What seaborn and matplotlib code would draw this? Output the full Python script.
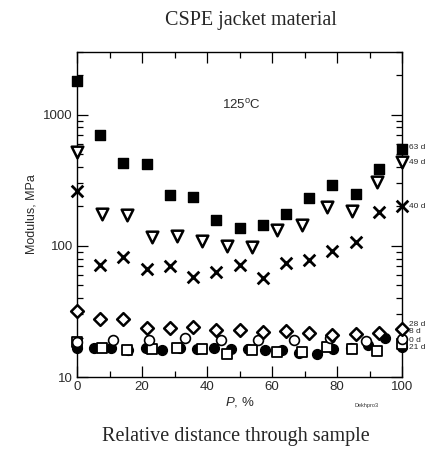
import numpy as np
import pandas as pd
import matplotlib
matplotlib.use('Agg')
import matplotlib.pyplot as plt
import matplotlib.transforms as mtransforms
import seaborn as sns

# ---- DATA ----
x15 = [0, 7.1, 14.3, 21.4, 28.6, 35.7, 42.9, 50, 57.1, 64.3, 71.4, 78.6, 85.7, 92.9, 100]
x14 = [0, 7.7, 15.4, 23.1, 30.8, 38.5, 46.2, 53.8, 61.5, 69.2, 76.9, 84.6, 92.3, 100]
x10 = [0, 11.1, 22.2, 33.3, 44.4, 55.6, 66.7, 77.8, 88.9, 100]
x20 = [0, 5.3, 10.5, 15.8, 21.1, 26.3, 31.6, 36.8, 42.1, 47.4, 52.6, 57.9,
       63.2, 68.4, 73.7, 78.9, 84.2, 89.5, 94.7, 100]

mod_63d = [1790, 705, 427, 417, 245, 235, 156, 137, 143, 174, 231, 292, 249, 386, 542]
mod_49d = [517, 176, 173, 117, 118, 108, 100, 98, 133, 143, 197, 184, 306, 434]
mod_40d = [261, 72, 82, 66, 70, 58, 63, 71, 57, 74, 78, 91, 107, 181, 201]
mod_28d = [31.9, 27.9, 27.5, 23.7, 23.7, 24.1, 22.8, 22.8, 22.1, 22.4, 21.7, 20.9, 21.2, 21.5, 23.2]
mod_8d = [18.5, 19.1, 19.3, 19.7, 19.1, 19.1, 19.3, 19.7, 18.9, 19.5]
mod_0d = [16.5, 16.5, 16.5, 16.1, 16.6, 16.1, 16.5, 16.4, 16.5, 16.4, 16.3, 16.1,
          16.1, 15.3, 15.0, 16.4, 16.5, 17.5, 19.7, 17.0]
mod_21d = [18.5, 16.5, 16.0, 16.3, 16.5, 16.3, 15.1, 16.0, 15.6, 15.5, 16.8, 16.3, 15.8, 17.8]

labels = ['63 d', '49 d', '40 d', '28 d', '8 d', '0 d', '21 d']
label_y = [560, 430, 200, 25.3, 22.1, 19.1, 16.9]

# ---- STYLE ----
sns.set_style('ticks')
plt.rcParams['font.family'] = ['Liberation Sans', 'DejaVu Sans']
plt.rcParams['mathtext.fontset'] = 'custom'
plt.rcParams['mathtext.rm'] = 'Liberation Sans'
plt.rcParams['mathtext.it'] = 'Liberation Sans:italic'

fig = plt.figure(figsize=(4.34, 4.57), dpi=100)
ax = fig.add_axes([77 / 434, 80 / 457, 325 / 434, 325 / 457])

# (x, y, marker, face, size, linewidth) in draw order
series = [
    (x20, mod_0d, 'o', 'black', 50, 1.0),
    (x14, mod_21d, 's', 'white', 50, 1.3),
    (x10, mod_8d, 'o', 'white', 50, 1.2),
    (x15, mod_28d, 'D', 'white', 42, 1.8),
    (x15, mod_40d, 'x', 'black', 70, 2.0),
    (x14, mod_49d, 'v', 'white', 70, 1.8),
    (x15, mod_63d, 's', 'black', 55, 1.0),
]

for xs, ys, mk, fc, s, lw in series:
    df = pd.DataFrame({'P': xs, 'Modulus': ys})
    if mk == 'x':
        sns.scatterplot(data=df, x='P', y='Modulus', marker=mk, color='black',
                        s=s, linewidth=lw, ax=ax, zorder=3, clip_on=False)
    else:
        sns.scatterplot(data=df, x='P', y='Modulus', marker=mk, facecolor=fc,
                        edgecolor='black', s=s, linewidth=lw, ax=ax, zorder=3,
                        clip_on=False)

ax.set_yscale('log')
ax.set_xlim(0, 100)
ax.set_ylim(10, 3000)
ax.set_xticks(np.arange(0, 101, 20))
ax.set_xticks(np.arange(10, 100, 20), minor=True)
ax.set_yticks([10, 100, 1000])
ax.set_yticklabels(['10', '100', '1000'])

for sp in ax.spines.values():
    sp.set_color('black')
    sp.set_linewidth(1.0)

ax.tick_params(which='both', direction='in', top=True, right=True,
               colors='black', labelcolor='#2a2a2a', labelsize=9.5, width=0.9)
ax.tick_params(which='major', length=8, pad=3)
ax.tick_params(which='minor', length=4)

ax.set_xlabel(r'$\it{P}$, %', fontsize=9.5, color='#2a2a2a', labelpad=1)
ax.set_ylabel('Modulus, MPa', fontsize=9, color='#2a2a2a', labelpad=4)

ax.text(50.7, 1190, r'125$^{\mathrm{o}}$C', fontsize=9.5, color='#2a2a2a',
        ha='center', va='center')

trans = mtransforms.blended_transform_factory(ax.transAxes, ax.transData)
for lab, ly in zip(labels, label_y):
    ax.text(1.022, ly, lab, transform=trans, fontsize=6, color='#2a2a2a',
            ha='left', va='center')

fig.text(367 / 434, 1 - 406 / 457, 'Dekhpro3', fontsize=4, color='#333333',
         ha='center', va='center')

fig.text(251 / 434, 1 - 20 / 457, 'CSPE jacket material', fontsize=14.5,
         family=['Liberation Serif', 'DejaVu Serif'], ha='center', va='center')
fig.text(236 / 434, 1 - 436 / 457, 'Relative distance through sample',
         fontsize=14.5, family=['Liberation Serif', 'DejaVu Serif'],
         ha='center', va='center')

fig.savefig('out.png', dpi=100)
